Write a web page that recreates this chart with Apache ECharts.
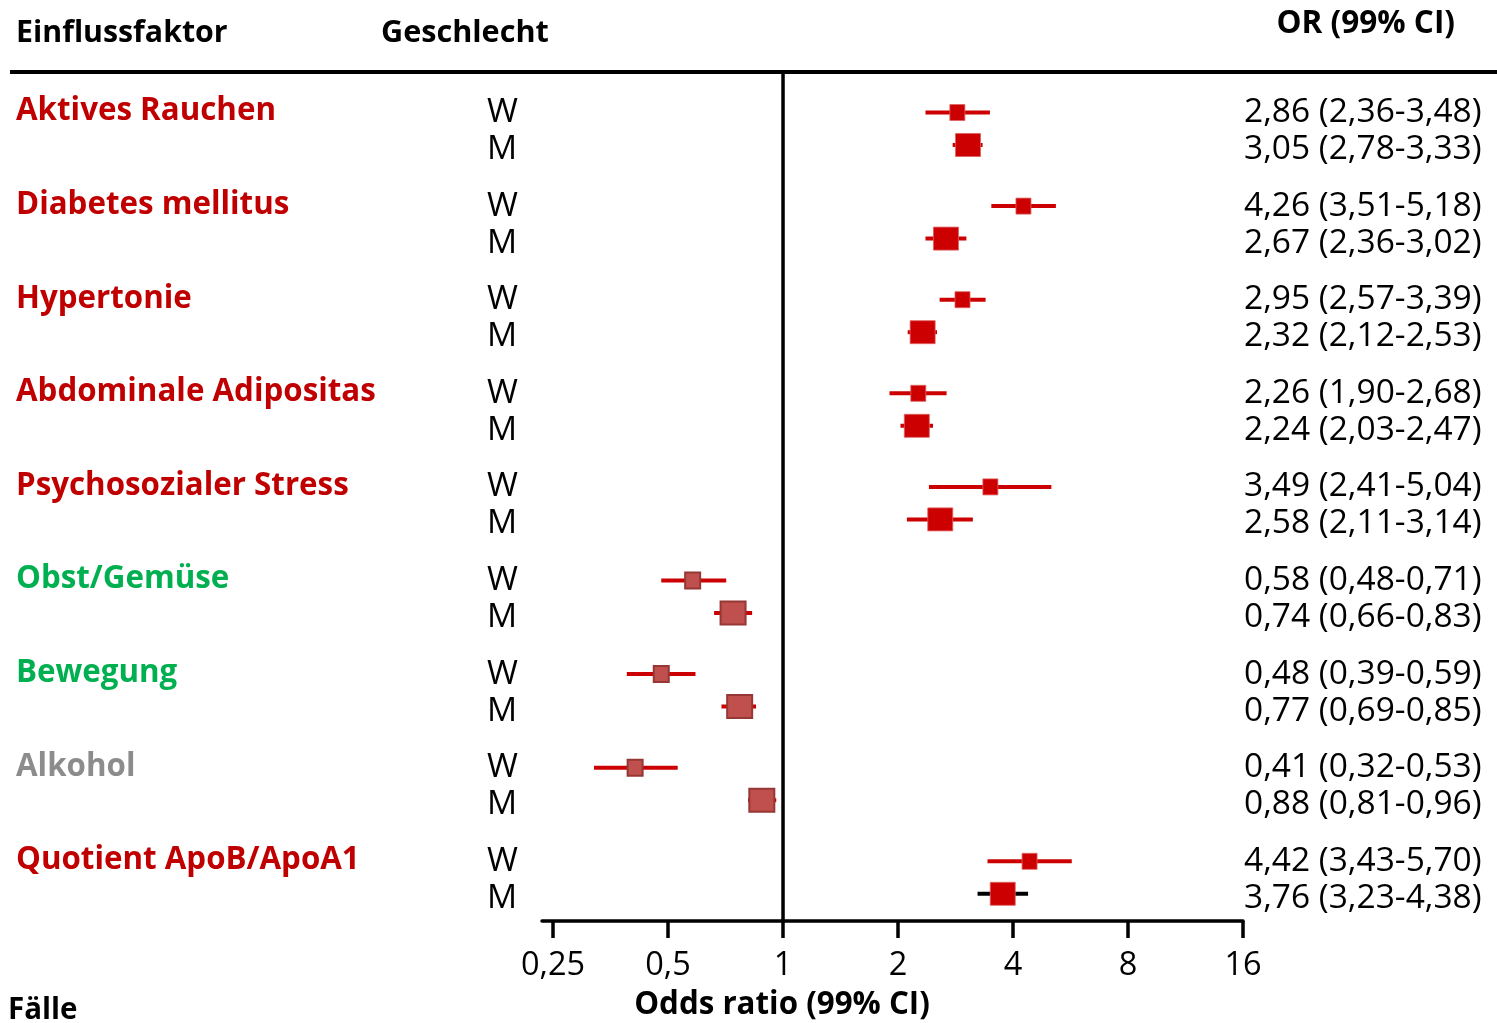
<!DOCTYPE html>
<html><head><meta charset="utf-8">
<script src="https://cdn.jsdelivr.net/npm/echarts@6/dist/echarts.min.js"></script>
<style>html,body{margin:0;padding:0;background:#fff}#c{width:1497px;height:1023px}</style>
</head><body><div id="c"></div>
<script>
// ---- data ----
const factors = ['Aktives Rauchen','Diabetes mellitus','Hypertonie','Abdominale Adipositas','Psychosozialer Stress','Obst/Gemüse','Bewegung','Alkohol','Quotient ApoB/ApoA1'];
const sexes = ['W','M'];
const orW = [2.86,4.26,2.95,2.26,3.49,0.58,0.48,0.41,4.42];
const loW = [2.36,3.51,2.57,1.90,2.41,0.48,0.39,0.32,3.43];
const hiW = [3.48,5.18,3.39,2.68,5.04,0.71,0.59,0.53,5.70];
const orM = [3.05,2.67,2.32,2.24,2.58,0.74,0.77,0.88,3.76];
const loM = [2.78,2.36,2.12,2.03,2.11,0.66,0.69,0.81,3.23];
const hiM = [3.33,3.02,2.53,2.47,3.14,0.83,0.85,0.96,4.38];
const tickValues = [0.25,0.5,1,2,4,8,16];

// ---- layout / style ----
const FONT = '"Open Sans", "Noto Sans", sans-serif';
const GRID_TOP = 72, GRID_BOTTOM_PX = 921, GRID_LEFT = 542, GRID_RIGHT_PX = 1243;
const ROW0 = 40.5, FACTOR_STEP = 93.6, SEX_STEP = 32.5;
const RED = '#c00000', GREEN = '#00b050', GRAY = '#8c8c8c';
const factorColor = i => (i === 5 || i === 6) ? GREEN : (i === 7 ? GRAY : RED);
const protective = i => i >= 5 && i <= 7;
const log2 = v => Math.log(v) / Math.LN2;
const fmt = v => v.toFixed(2).replace('.', ',');

const rows = [];
factors.forEach((f, i) => {
  rows.push([log2(orW[i]), log2(loW[i]), log2(hiW[i]), ROW0 + i*FACTOR_STEP, 0, i]);
  rows.push([log2(orM[i]), log2(loM[i]), log2(hiM[i]), ROW0 + i*FACTOR_STEP + SEX_STEP, 1, i]);
});

const chart = echarts.init(document.getElementById('c'), null, {renderer: 'canvas'});

const graphics = [];
graphics.push({type:'line', shape:{x1:10, y1:GRID_TOP, x2:1497, y2:GRID_TOP}, style:{stroke:'#000', lineWidth:4}, z:10});
graphics.push({type:'text', x:16, y:33, style:{text:'Einflussfaktor', font:'bold 30.3px ' + FONT, fill:'#000', verticalAlign:'middle'}});
graphics.push({type:'text', x:381, y:33, style:{text:'Geschlecht', font:'bold 30.6px ' + FONT, fill:'#000', verticalAlign:'middle'}});
graphics.push({type:'text', x:1455, y:24, style:{text:'OR (99% CI)', font:'bold 31.5px ' + FONT, fill:'#000', align:'right', verticalAlign:'middle'}});
graphics.push({type:'text', x:8, y:1011, style:{text:'Fälle', font:'bold 29.5px ' + FONT, fill:'#000', verticalAlign:'middle'}});
graphics.push({type:'text', x:782, y:1005, style:{text:'Odds ratio (99% CI)', font:'bold 31.3px ' + FONT, fill:'#000', align:'center', verticalAlign:'middle'}});

factors.forEach((f, i) => {
  const yW = GRID_TOP + ROW0 + i*FACTOR_STEP;
  graphics.push({type:'text', x:16, y:yW - 1, style:{text:f, font:'bold 31.3px ' + FONT, fill:factorColor(i), verticalAlign:'middle'}});
  graphics.push({type:'text', x:487, y:yW, style:{text:sexes[0], font:'33.5px ' + FONT, fill:'#000', verticalAlign:'middle'}});
  graphics.push({type:'text', x:487, y:yW + 37, style:{text:sexes[1], font:'33.5px ' + FONT, fill:'#000', verticalAlign:'middle'}});
  graphics.push({type:'text', x:1244, y:yW, style:{text:fmt(orW[i]) + ' (' + fmt(loW[i]) + '-' + fmt(hiW[i]) + ')', font:'33.5px ' + FONT, fill:'#000', verticalAlign:'middle'}});
  graphics.push({type:'text', x:1244, y:yW + 37, style:{text:fmt(orM[i]) + ' (' + fmt(loM[i]) + '-' + fmt(hiM[i]) + ')', font:'33.5px ' + FONT, fill:'#000', verticalAlign:'middle'}});
});

const option = {
  backgroundColor: '#fff',
  animation: false,
  textStyle: {fontFamily: FONT},
  grid: {left: GRID_LEFT, right: 1497 - GRID_RIGHT_PX, top: GRID_TOP, bottom: 1023 - GRID_BOTTOM_PX, containLabel: false},
  xAxis: {
    type: 'value',
    min: log2(tickValues[0]) - 0.096, max: log2(tickValues[tickValues.length-1]),
    splitLine: {show: false},
    axisLine: {show: true, onZero: false, lineStyle: {color: '#000', width: 3.5}},
    axisTick: {show: true, length: 17, lineStyle: {color: '#000', width: 3.5}, customValues: tickValues.map(log2)},
    axisLabel: {show: true, color: '#000', fontSize: 32.5, fontFamily: FONT, margin: 28,
      customValues: tickValues.map(log2),
      formatter: v => String(Math.pow(2, Math.round(v*1000)/1000)).replace('.', ',')}
  },
  yAxis: {type: 'value', inverse: true, min: 0, max: GRID_BOTTOM_PX - GRID_TOP, show: false},
  series: [
    {
      type: 'line', data: [[0, 0], [0, GRID_BOTTOM_PX - GRID_TOP]], symbol: 'none',
      lineStyle: {color: '#000', width: 3.5}, z: 1, silent: true
    },
    {
      type: 'custom', z: 5,
      data: rows,
      renderItem: (params, api) => {
        const i = api.value(5), isM = api.value(4) === 1;
        const y = api.value(3);
        const p = api.coord([api.value(0), y]);
        const pl = api.coord([api.value(1), y]);
        const ph = api.coord([api.value(2), y]);
        const w = isM ? 25 : 15, h = isM ? 23 : 16;
        const whiskerColor = (i === 8 && isM) ? '#000' : '#cc0000';
        const prot = protective(i);
        return {type: 'group', children: [
          {type: 'line', shape: {x1: pl[0], y1: p[1], x2: ph[0], y2: p[1]}, style: {stroke: whiskerColor, lineWidth: 4}},
          {type: 'rect', shape: {x: p[0] - w/2, y: p[1] - h/2, width: w, height: h},
            style: prot ? {fill: '#c0504d', stroke: '#953735', lineWidth: 2} : {fill: '#cc0000', stroke: '#e06060', lineWidth: 0.8}}
        ]};
      }
    }
  ],
  graphic: graphics
};
chart.setOption(option);
</script>
</body></html>
